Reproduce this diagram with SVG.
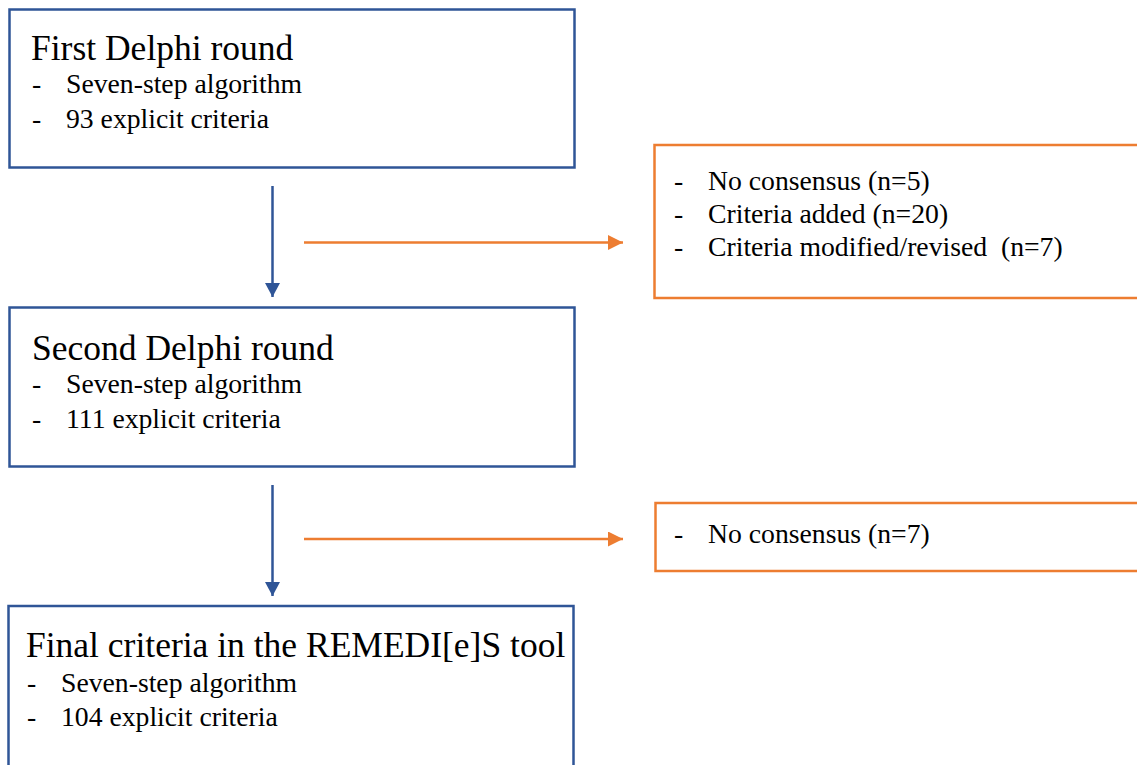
<svg xmlns="http://www.w3.org/2000/svg" width="1137" height="765" viewBox="0 0 1137 765">
<style>
.box{fill:#fff;stroke:#2F5597;stroke-width:2.5}
.obox{fill:#fff;stroke:#ED7D31;stroke-width:2.5}
.title{font-family:"Liberation Serif","Times New Roman",serif;font-size:35.5px;fill:#000}
.item{font-family:"Liberation Serif","Times New Roman",serif;font-size:27.7px;fill:#000}
.blue{stroke:#2F5597;stroke-width:2.5;fill:none}
.orange{stroke:#ED7D31;stroke-width:2.5;fill:none}
</style>
<defs>
<marker id="ab" markerWidth="15" markerHeight="15" refX="14" refY="7.5" orient="auto" markerUnits="userSpaceOnUse"><path d="M0,0 L14,7.5 L0,15 Z" fill="#2F5597"/></marker>
<marker id="ao" markerWidth="15" markerHeight="15" refX="15" refY="7.5" orient="auto" markerUnits="userSpaceOnUse"><path d="M0,0 L15,7.5 L0,15 Z" fill="#ED7D31"/></marker>
</defs>
<rect width="1137" height="765" fill="#fff"/>
<g id="connectors">
<line class="blue" x1="272.5" y1="186" x2="272.5" y2="297" marker-end="url(#ab)"/>
<line class="blue" x1="272.5" y1="485" x2="272.5" y2="596" marker-end="url(#ab)"/>
<line class="orange" x1="304" y1="242.5" x2="623" y2="242.5" marker-end="url(#ao)"/>
<line class="orange" x1="304" y1="539" x2="623" y2="539" marker-end="url(#ao)"/>
</g>
<g id="round1">
<rect class="box" x="9.5" y="9.5" width="565" height="158"/>
<text class="title" x="31" y="60">First Delphi round</text>
<text class="item" x="32" y="93">-</text>
<text class="item" x="66" y="93">Seven-step algorithm</text>
<text class="item" x="32" y="128">-</text>
<text class="item" x="66" y="128">93 explicit criteria</text>
</g>
<g id="changes1">
<rect class="obox" x="654.5" y="145" width="500" height="153"/>
<text class="item" x="674" y="190">-</text>
<text class="item" x="708" y="190">No consensus (n=5)</text>
<text class="item" x="674" y="223">-</text>
<text class="item" x="708" y="223">Criteria added (n=20)</text>
<text class="item" x="674" y="256">-</text>
<text class="item" x="708" y="256" xml:space="preserve">Criteria modified/revised  (n=7)</text>
</g>
<g id="round2">
<rect class="box" x="9.5" y="307.5" width="565" height="159"/>
<text class="title" x="32" y="360">Second Delphi round</text>
<text class="item" x="32" y="393">-</text>
<text class="item" x="66" y="393">Seven-step algorithm</text>
<text class="item" x="32" y="428">-</text>
<text class="item" x="66" y="428">111 explicit criteria</text>
</g>
<g id="changes2">
<rect class="obox" x="655.5" y="503" width="500" height="68"/>
<text class="item" x="674" y="543">-</text>
<text class="item" x="708" y="543">No consensus (n=7)</text>
</g>
<g id="final">
<rect class="box" x="8.5" y="606" width="565" height="200"/>
<text class="title" x="26" y="657">Final criteria in the REMEDI[e]S tool</text>
<text class="item" x="27" y="692">-</text>
<text class="item" x="61" y="692">Seven-step algorithm</text>
<text class="item" x="27" y="726">-</text>
<text class="item" x="61" y="726">104 explicit criteria</text>
</g>
</svg>
